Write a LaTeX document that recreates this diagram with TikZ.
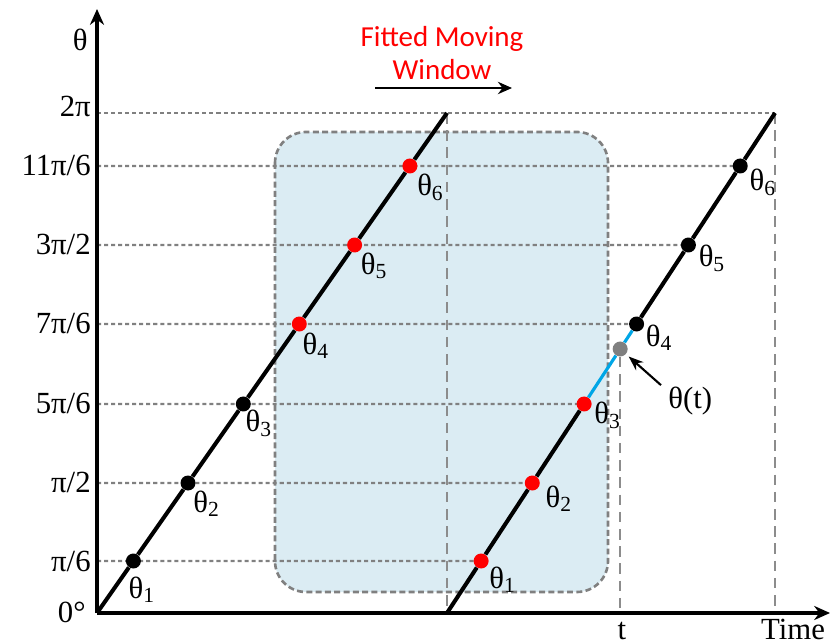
\documentclass[tikz,border=0pt]{standalone}
\usepackage{fontspec}
\setmainfont{Liberation Serif}
\newfontfamily\titlefont{Carlito}
\usetikzlibrary{arrows.meta,calc}

\definecolor{winfill}{RGB}{219,236,243}
\definecolor{guidegray}{RGB}{128,128,128}
\definecolor{dropgray}{RGB}{140,140,140}
\definecolor{segblue}{RGB}{0,166,230}

\begin{document}
\begin{tikzpicture}[x=0.02cm, y=-0.02cm,
   axis/.style={line width=1.8pt, -{Stealth[length=9pt,width=8pt]}},
   ramp/.style={line width=2.3pt},
   window/.style={draw=guidegray, fill=winfill, line width=1.5pt,
                  dash pattern=on 3.4pt off 1.9pt, rounded corners=0.62cm},
   guide/.style={guidegray, line width=1.2pt, dash pattern=on 2.3pt off 1.7pt},
   drop/.style={dropgray, line width=1.1pt, dash pattern=on 6pt off 3.8pt},
   dot/.style={circle, inner sep=0pt, minimum size=0.3cm},
   lbl/.style={font=\fontsize{17.5}{20}\selectfont, inner sep=0pt},
   title/.style={font=\titlefont\fontsize{16.5}{19}\selectfont, text=red,
                 align=center, inner sep=0pt},
   >=Stealth]
\useasboundingbox (0,0) rectangle (831,644);
\coordinate (O) at (97,613);
\coordinate (ytop) at (97,9);
\coordinate (xend) at (830,613);
\coordinate (a0) at (97,613);
\coordinate (a1) at (447,113);
\coordinate (b0) at (447,613);
\coordinate (b1) at (775,113);

\draw[window] (275,132) rectangle (608,592);

% theta levels
\foreach \i/\yy/\txt in {1/561/{π/6}, 2/483/{π/2}, 3/404/{5π/6},
                         4/324/{7π/6}, 5/245/{3π/2}, 6/166/{11π/6}} {
  \coordinate (y\i) at (97,\yy);
  \coordinate (pc\i) at ($(a0)!{(613-\yy)/500}!(a1)$);
  \coordinate (qc\i) at ($(b0)!{(613-\yy)/500}!(b1)$);
  \node[lbl, anchor=base east] (ly\i) at (91,\yy+10) {\txt};
  \draw[guide] (y\i) -- (qc\i);
}
\coordinate (y7) at (97,113);
\node[lbl, anchor=base east] (ly7) at (91,117) {2π};
\draw[guide] (y7) -- (b1);
\node[lbl, anchor=base east] (lth) at (88,51) {θ};
\node[lbl, anchor=base east] (lzero) at (86,622) {0°};

% samples
\foreach \i/\ca/\cb/\ax/\ay/\bx/\by in {1/black/red/-5/37/8/27, 2/black/red/5/29/13/24,
    3/black/red/2/28/10/20, 4/red/black/3/30/9/22,
    5/red/black/6/29/10/22, 6/red/black/7/30/9/25} {
  \node[dot, fill=\ca] (p\i) at (pc\i) {};
  \node[dot, fill=\cb] (q\i) at (qc\i) {};
  \node[lbl, anchor=base west] (lp\i) at ($(pc\i)+(\ax,\ay)$) {θ\textsubscript{\i}};
  \node[lbl, anchor=base west] (lq\i) at ($(qc\i)+(\bx,\by)$) {θ\textsubscript{\i}};
}
\node[dot, fill=guidegray] (tt) at ($(b0)!0.528!(b1)$) {};

\draw[drop] (a1) -- (b0);
\draw[drop] (tt) -- (tt |- O);
\draw[drop] (b1) -- (b1 |- O);

\draw[axis] (O) -- (ytop);
\draw[axis] (O) -- (xend);

\draw[ramp] (a0) -- (p1) -- (p2) -- (p3) -- (p4) -- (p5) -- (p6) -- (a1);
\draw[ramp] (b0) -- (q1) -- (q2) -- (q3);
\draw[ramp, segblue, line width=1.8pt] (q3) -- (tt) -- (q4);
\draw[ramp] (q4) -- (q5) -- (q6) -- (b1);

\node[lbl, anchor=base] (lt) at (622,639) {t};
\node[lbl, anchor=base] (ltime) at (793,639) {Time};
\node[lbl, anchor=base west] (ltt) at (668,409) {θ(t)};
\draw[->, line width=1.2pt, shorten >=2pt] ($(ltt.north west)+(-7,-2)$) -- (tt);

\node[title, anchor=base] (ttl) at (442,80) {Fitted Moving\\Window};
\coordinate (w0) at (375,88);
\coordinate (w1) at (512,88);
\draw[-{Stealth[length=8pt,width=7pt]}, line width=1.6pt] (w0) -- (w1);
\end{tikzpicture}
\end{document}
